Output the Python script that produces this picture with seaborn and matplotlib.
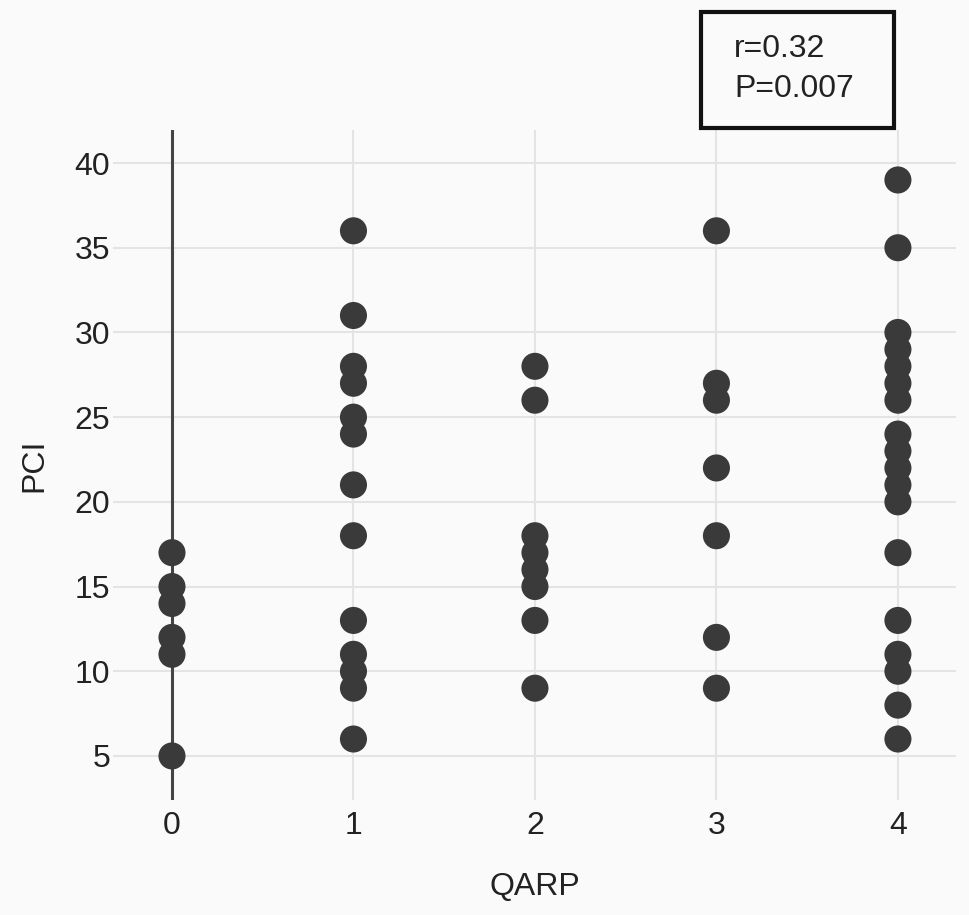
import pandas as pd
import matplotlib.pyplot as plt
import seaborn as sns

# PCI values, one list per QARP score
qarp_levels = [0, 1, 2, 3, 4]
pci_q0 = [17, 15, 14, 12, 11, 5]
pci_q1 = [36, 31, 28, 27, 25, 24, 21, 18, 13, 11, 10, 9, 6]
pci_q2 = [28, 26, 18, 17, 16, 15, 13, 9]
pci_q3 = [36, 27, 26, 22, 18, 12, 9]
pci_q4 = [39, 35, 30, 29, 28, 27, 26, 24, 23, 22, 21, 20, 17, 13, 11, 10, 8, 6]
y_ticks = [5, 10, 15, 20, 25, 30, 35, 40]
stats_text = "r=0.32\nP=0.007"

rows = []
for q, vals in zip(qarp_levels, [pci_q0, pci_q1, pci_q2, pci_q3, pci_q4]):
    for v in vals:
        rows.append({"QARP": q, "PCI": v})
df = pd.DataFrame(rows)

sns.set_style("white")
plt.rcParams["font.family"] = ["Liberation Sans", "DejaVu Sans"]

fig = plt.figure(figsize=(9.69, 9.15), dpi=100, facecolor="#fafafa")
ax = fig.add_axes([113 / 969, 1 - 800 / 915, 843 / 969, 670 / 915])
ax.set_facecolor("#fafafa")

sns.scatterplot(data=df, x="QARP", y="PCI", ax=ax, s=380, color="#3a3a3a",
                edgecolor="none", zorder=3)

ax.set_xlim(-0.325, 4.32)
ax.set_ylim(2.4, 41.95)
ax.set_xticks(qarp_levels)
ax.set_yticks(y_ticks)
ax.grid(True, color="#e4e4e4", linewidth=1.5)
ax.set_axisbelow(True)
ax.axvline(0, color="#444444", linewidth=2.2, zorder=2)

for s in ax.spines.values():
    s.set_visible(False)
ax.tick_params(length=0, labelsize=23, colors="#222222")
ax.tick_params(axis="x", pad=8)
ax.tick_params(axis="y", pad=2)
ax.set_xlabel("QARP", fontsize=23, color="#222222", labelpad=22)
ax.set_ylabel("PCI", fontsize=23, color="#222222", labelpad=18)

# stats box
fig.text(734 / 969, 1 - 69 / 915, stats_text, fontsize=23, color="#222222",
         va="center", ha="left", linespacing=1.45)
box = plt.Rectangle((701 / 969, 1 - 128 / 915), 193 / 969, 116 / 915,
                    transform=fig.transFigure, fill=False, edgecolor="#111111",
                    linewidth=3)
fig.patches.append(box)

fig.savefig("out.png", dpi=100, facecolor="#fafafa")
